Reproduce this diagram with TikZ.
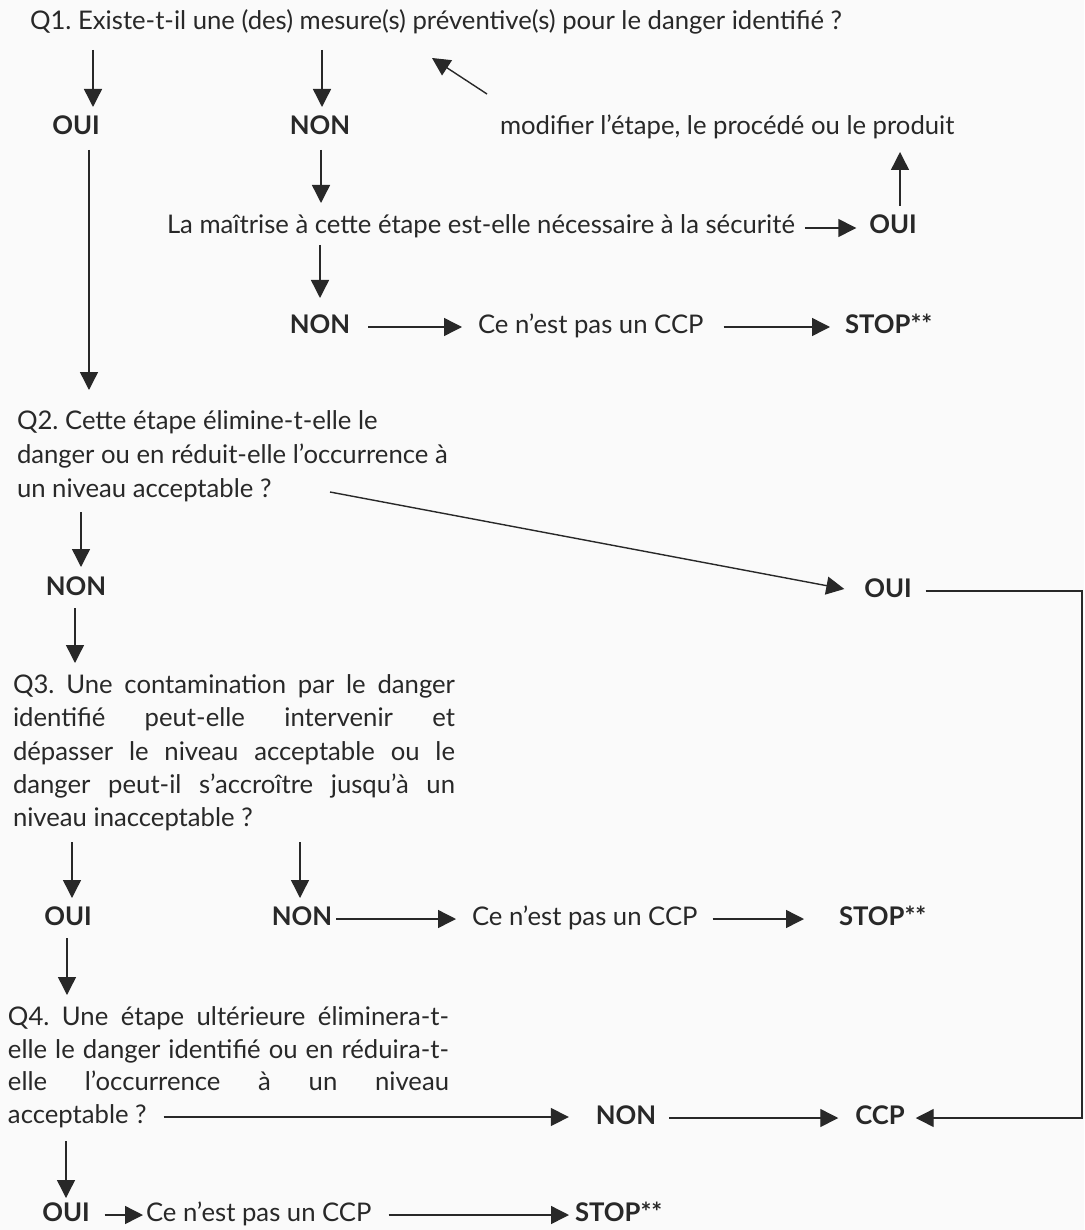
\documentclass[tikz,border=0pt]{standalone}
\usepackage{fontspec}
\setmainfont{Lato}
\usetikzlibrary{arrows.meta,calc}
\definecolor{ink}{RGB}{40,40,40}
\definecolor{bgc}{RGB}{250,250,250}
\newlength\qonew
\newcommand\myfs{\fontsize{\fsz pt}{33.3pt}\selectfont}
\begin{document}
\frenchspacing
\settowidth\qonew{\fontsize{10pt}{12pt}\selectfont Q1. Existe-t-il une (des) mesure(s) préventive(s) pour le danger identifié ?}
\pgfmathsetmacro\fsz{10*812/\qonew}
\begin{tikzpicture}[x=1pt,y=-1pt,
  t/.style={inner sep=0pt, outer sep=0pt, text=ink, font=\myfs, text height=17pt, text depth=5pt},
  b/.style={t, font=\myfs\bfseries},
  arr/.style={draw=ink, line width=1.4pt, -{Triangle[length=18pt,width=18pt]}}]
\fill[bgc] (0,0) rectangle (1084,1230);
\useasboundingbox (0,0) rectangle (1084,1230);
\coordinate (redge) at (1082,0);

% row 1
\node[t, anchor=base west] (q1) at (30,30) {Q1. Existe-t-il une (des) mesure(s) préventive(s) pour le danger identifié ?};
\node[b, anchor=base] (oui1) at (76,135) {OUI};
\node[b, anchor=base] (non1) at (320,135) {NON};
\node[t, anchor=base west] (modif) at (500,135) {modifier l’étape, le procédé ou le produit};
\node[t, anchor=base west] (maitrise) at (167,234) {La maîtrise à cette étape est-elle nécessaire à la sécurité};
\node[b, anchor=base] (oui2) at (893,234) {OUI};
\node[b, anchor=base] (non2) at (320,333) {NON};
\node[t, anchor=base west] (ccp1) at (478,333) {Ce n’est pas un CCP};
\node[b, anchor=base west] (stop1) at (845,333) {STOP**};

% Q2
\node[t, anchor=base west] (q2a) at (17,429) {Q2. Cette étape élimine-t-elle le};
\node[t, anchor=base west] (q2b) at (17,463) {danger ou en réduit-elle l’occurrence à};
\node[t, anchor=base west] (q2c) at (17,497) {un niveau acceptable ?};
\node[b, anchor=base] (oui3) at (888,597) {OUI};
\node[b, anchor=base] (non3) at (76,595) {NON};

% Q3
\node[t, anchor=base west] (q3a) at (13,693) {\makebox[442pt][s]{Q3. Une contamination par le danger}};
\node[t, anchor=base west] (q3b) at (13,726) {\makebox[442pt][s]{identifié peut-elle intervenir et}};
\node[t, anchor=base west] (q3c) at (13,760) {\makebox[442pt][s]{dépasser le niveau acceptable ou le}};
\node[t, anchor=base west] (q3d) at (13,793) {\makebox[442pt][s]{danger peut-il s’accroître jusqu’à un}};
\node[t, anchor=base west] (q3e) at (13,826) {niveau inacceptable ?};
\node[b, anchor=base] (oui4) at (68,925) {OUI};
\node[b, anchor=base] (non4) at (302,925) {NON};
\node[t, anchor=base west] (ccp2) at (472,925) {Ce n’est pas un CCP};
\node[b, anchor=base west] (stop2) at (839,925) {STOP**};

% Q4
\node[t, anchor=base west] (q4a) at (8,1025) {\makebox[441pt][s]{Q4. Une étape ultérieure éliminera-t-}};
\node[t, anchor=base west] (q4b) at (8,1058) {\makebox[441pt][s]{elle le danger identifié ou en réduira-t-}};
\node[t, anchor=base west] (q4c) at (8,1090) {\makebox[441pt][s]{elle l’occurrence à un niveau}};
\node[t, anchor=base west] (q4d) at (8,1123) {acceptable ?};
\node[b, anchor=base] (non5) at (626,1124) {NON};
\node[b, anchor=base] (ccpN) at (880,1124) {CCP};
\node[b, anchor=base] (oui5) at (66,1221) {OUI};
\node[t, anchor=base west] (ccp3) at (146,1221) {Ce n’est pas un CCP};
\node[b, anchor=base west] (stop3) at (575,1221) {STOP**};

% connectors
\draw[arr] ($(q1.south -| oui1.north)+(17,15)$) -- ($(oui1.north)+(17,-11)$);
\draw[arr] ($(q1.south -| non1.north)+(2,15)$) -- ($(non1.north)+(2,-11)$);
\draw[arr] ($(modif.north west)+(-13,-24)$) -- ($(q1.south west)+(402,23)$);
\draw[arr] ($(oui2.north)+(7,-11)$) -- ($(oui2.north |- modif.south)+(7,12)$);
\draw[arr] ($(non1.south)+(1,10)$) -- ($(non1.south |- maitrise.north)+(1,-14)$);
\draw[arr] ($(maitrise.east)+(10,0)$) -- ($(maitrise.east -| oui2.west)+(-13,0)$);
\draw[arr] ($(maitrise.south -| non2.north)+(0,6)$) -- ($(non2.north)+(0,-18)$);
\draw[arr] ($(non2.east)+(18,0)$) -- ($(ccp1.west)+(-16,0)$);
\draw[arr] ($(ccp1.east)+(20,0)$) -- ($(stop1.west)+(-15,0)$);
\draw[arr] ($(oui1.south)+(13,10)$) -- ($(oui1.south |- q2a.north)+(13,-22)$);
\draw[arr] ($(q2c.base west)+(313,-5)$) -- ($(oui3.west)+(-20,-2)$);
\draw[arr] ($(oui3.east)+(14,0)$) -- (oui3.east -| redge) |- ($(ccpN.east)+(11,0)$);
\draw[arr] ($(q2c.south -| non3.north)+(5,10)$) -- ($(non3.north)+(5,-11)$);
\draw[arr] ($(non3.south)+(-1,8)$) -- ($(non3.south |- q3a.north)+(-1,-13)$);
\draw[arr] ($(q3e.south -| oui4.north)+(4,11)$) -- ($(oui4.north)+(4,-10)$);
\draw[arr] ($(q3e.south -| non4.north)+(-2,11)$) -- ($(non4.north)+(-2,-10)$);
\draw[arr] ($(non4.east)+(4,0)$) -- ($(ccp2.west)+(-16,0)$);
\draw[arr] ($(ccp2.east)+(15,0)$) -- ($(stop2.west)+(-35,0)$);
\draw[arr] ($(oui4.south)+(-1,8)$) -- ($(oui4.south |- q4a.north)+(-1,-13)$);
\draw[arr] ($(q4d.east)+(17,0)$) -- ($(q4d.east -| non5.west)+(-27,0)$);
\draw[arr] ($(non5.east)+(13,0)$) -- ($(non5.east -| ccpN.west)+(-17,0)$);
\draw[arr] ($(q4d.south -| oui5.north)+(0,13)$) -- ($(oui5.north)+(0,-6)$);
\draw[arr] ($(oui5.east)+(15,0)$) -- ($(ccp3.west)+(-3,0)$);
\draw[arr] ($(ccp3.east)+(17,0)$) -- ($(stop3.west)+(-6,0)$);
\end{tikzpicture}
\end{document}
